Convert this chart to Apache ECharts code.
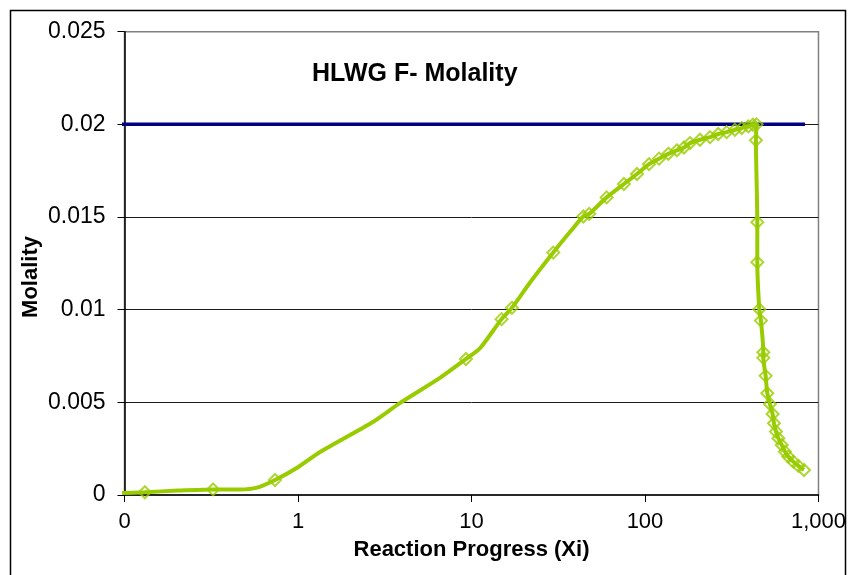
<!DOCTYPE html>
<html>
<head>
<meta charset="utf-8">
<script src="https://cdn.jsdelivr.net/npm/echarts@6/dist/echarts.min.js"></script>
<style>
  html, body { margin: 0; padding: 0; background: #fff; }
  #chart { width: 849px; height: 575px; }
</style>
</head>
<body>
<div id="chart"></div>
<script>
// Reaction path: F- molality versus reaction progress (log scale)
const curveXi = [0.094, 0.131, 0.203, 0.324, 0.463, 0.581, 0.737, 1.0, 1.34, 2.67, 3.88, 6.58, 9.29, 11.2,
  14.9, 17.1, 21.7, 29.6, 37, 44.1, 47.7, 60.1, 75.6, 89.9, 105.5, 120.5, 136.3, 152.8, 167.8, 181.7,
  207.4, 237, 264.5, 295.6, 330, 360.9, 394, 419, 440,
  436, 444, 444, 456, 466, 481, 481, 496, 507, 525, 544, 554, 569, 587, 614, 641, 670, 716, 766, 825];
const curveMolality = [0.0001, 0.00015, 0.00024, 0.0003, 0.0003, 0.0004, 0.00081, 0.0015, 0.00232, 0.00391, 0.00497, 0.00632, 0.00734, 0.00792,
  0.00949, 0.0101, 0.01145, 0.01308, 0.0142, 0.01503, 0.01517, 0.01606, 0.01678, 0.01732, 0.01785, 0.01815, 0.01841, 0.0186, 0.01875, 0.01899,
  0.01917, 0.01931, 0.01948, 0.01958, 0.01971, 0.0198, 0.01989, 0.01998, 0.0200,
  0.01914, 0.01472, 0.01256, 0.01002, 0.00941, 0.0077, 0.0074, 0.00643, 0.00549, 0.00491, 0.00437, 0.00387, 0.00342, 0.00306, 0.0027, 0.00234, 0.00207, 0.0018, 0.00157, 0.00135];

// Computed steps that carry a marker
const markerXi = [0.131, 0.324, 0.737, 9.29, 14.9, 17.1, 29.6, 44.1, 47.7, 60.1, 75.6, 89.9, 105.5, 120.5,
  136.3, 152.8, 167.8, 181.7, 207.4, 237, 264.5, 295.6, 330, 360.9, 394, 419, 440,
  436, 444, 444, 456, 466, 481, 481, 496, 507, 525, 544, 554, 569, 587, 614, 641, 670, 716, 766, 825];
const markerMolality = [0.00015, 0.0003, 0.00081, 0.00734, 0.00949, 0.0101, 0.01308, 0.01503, 0.01517, 0.01606, 0.01678, 0.01732, 0.01785, 0.01815,
  0.01841, 0.0186, 0.01875, 0.01899, 0.01917, 0.01931, 0.01948, 0.01958, 0.01971, 0.0198, 0.01989, 0.01998, 0.0200,
  0.01914, 0.01472, 0.01256, 0.01002, 0.00941, 0.0077, 0.0074, 0.00643, 0.00549, 0.00491, 0.00437, 0.00387, 0.00342, 0.00306, 0.0027, 0.00234, 0.00207, 0.0018, 0.00157, 0.00135];

// Reference level
const limitXi = [0.094, 836];
const limitMolality = [0.02, 0.02];

const xTickValues = [0.1, 1, 10, 100, 1000];
const xTickLabels = ['0', '1', '10', '100', '1,000'];

const zip = (xs, ys) => xs.map((x, i) => [x, ys[i]]);
const FONT = '"Liberation Sans", Arial, sans-serif';
const GREEN = '#99cc00';

const chart = echarts.init(document.getElementById('chart'), null, { renderer: 'canvas' });
chart.setOption({
  animation: false,
  backgroundColor: '#fff',
  title: {
    text: 'HLWG F- Molality',
    left: 307, top: 57,
    textStyle: { fontFamily: FONT, fontSize: 25, fontWeight: 'bold', color: '#000' }
  },
  grid: {
    left: 124.5, right: 30.5, top: 31.7, bottom: 80,
    show: true, borderColor: '#808080', borderWidth: 1.5, backgroundColor: 'transparent'
  },
  xAxis: {
    type: 'log', logBase: 10, min: 0.1, max: 1000,
    name: 'Reaction Progress (Xi)', nameLocation: 'middle', nameGap: 44,
    nameTextStyle: { fontFamily: FONT, fontSize: 22, fontWeight: 'bold', color: '#000' },
    axisLine: { onZero: false, lineStyle: { color: '#000', width: 1.5 } },
    axisTick: { show: true, inside: false, length: 7, lineStyle: { color: '#000', width: 1 } },
    minorTick: { show: false },
    splitLine: { show: false },
    axisLabel: {
      fontFamily: FONT, fontSize: 22, color: '#000', margin: 16,
      formatter: v => {
        const i = xTickValues.findIndex(t => Math.abs(Math.log10(t) - Math.log10(v)) < 1e-6);
        return i >= 0 ? xTickLabels[i] : '';
      }
    }
  },
  yAxis: {
    type: 'value', min: 0, max: 0.025, interval: 0.005,
    axisLine: { show: true, lineStyle: { color: '#000', width: 1.5 } },
    axisTick: { show: true, inside: false, length: 7, lineStyle: { color: '#000', width: 1 } },
    splitLine: { show: true, showMinLine: false, showMaxLine: false, lineStyle: { color: '#1a1a1a', width: 1 } },
    axisLabel: { fontFamily: FONT, fontSize: 23, color: '#000', margin: 19 }
  },
  graphic: [
    {
      type: 'rect', silent: true, z: 100,
      shape: { x: 10.5, y: 10.5, width: 835, height: 600 },
      style: { fill: 'none', stroke: '#000', lineWidth: 1.5 }
    },
    {
      type: 'text', silent: true, z: 100,
      x: 31, y: 277, rotation: Math.PI / 2,
      style: {
        text: 'Molality', fontFamily: FONT, fontSize: 22, fontWeight: 'bold', fill: '#000',
        align: 'center', verticalAlign: 'middle'
      }
    }
  ],
  series: [
    {
      type: 'line', name: 'limit', data: zip(limitXi, limitMolality),
      showSymbol: false, clip: false, z: 2,
      lineStyle: { color: '#000080', width: 3.5 }
    },
    {
      type: 'line', name: 'F-', data: zip(curveXi, curveMolality),
      showSymbol: false, clip: false, smooth: 0.25, z: 3,
      lineStyle: { color: GREEN, width: 4 }
    },
    {
      type: 'scatter', name: 'F- steps', data: zip(markerXi, markerMolality),
      symbol: 'diamond', symbolSize: [12, 12], z: 4,
      itemStyle: { color: 'transparent', borderColor: GREEN, borderWidth: 2 }
    }
  ]
});
</script>
</body>
</html>
